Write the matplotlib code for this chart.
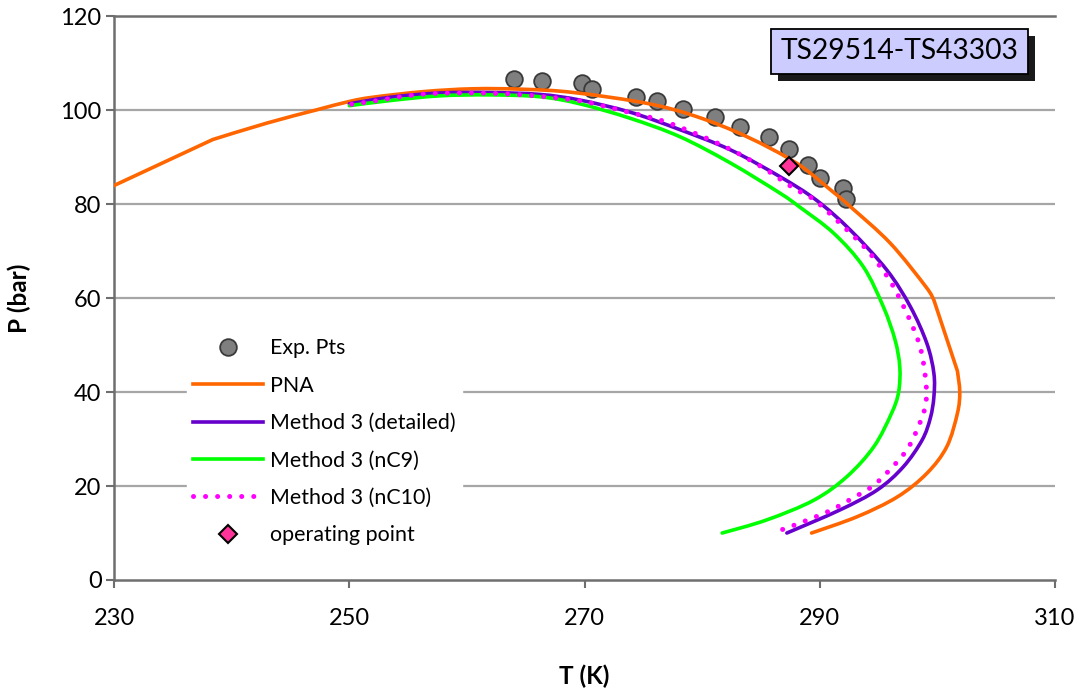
import matplotlib
matplotlib.use("Agg")
import matplotlib.pyplot as plt
import matplotlib.patheffects as pe
from matplotlib.path import Path
from matplotlib.patches import PathPatch
from matplotlib.lines import Line2D

plt.rcParams['font.family'] = ['Lato', 'DejaVu Sans']

# Experimental dew/bubble points
exp_T = [264.0, 266.4, 269.8, 270.6, 274.4, 276.2, 278.4, 281.1, 283.2,
         285.7, 287.4, 289.0, 290.0, 292.0, 292.2]
exp_P = [106.7, 106.2, 105.9, 104.6, 102.9, 102.0, 100.3, 98.6, 96.5,
         94.4, 91.8, 88.4, 85.5, 83.4, 81.1]

# PNA phase envelope
pna_T = [230.0, 238.4, 243.0, 247.2, 250.0, 252.0, 256.3, 260.5, 264.8,
         269.1, 275.3, 279.5, 283.8, 288.0, 290.9, 292.6, 296.0, 299.0,
         299.7, 301.7, 301.9, 301.7, 300.8, 299.1, 296.6, 293.2, 289.3]
pna_P = [84.0, 93.8, 97.3, 100.1, 101.9, 102.8, 104.0, 104.6, 104.5,
         103.8, 101.5, 98.7, 94.4, 88.8, 83.1, 79.5, 71.7, 62.5,
         59.6, 44.5, 40.0, 35.5, 28.4, 22.7, 17.7, 13.5, 10.0]
# indices where the PNA envelope has sharp corners
pna_corners = [1, 18, 19]

# Method 3, detailed characterisation
det_T = [250.0, 253.5, 257.7, 262.0, 266.2, 269.6, 273.9, 278.1, 282.4,
         286.6, 289.7, 292.6, 295.7, 297.7, 299.1, 299.7, 299.7, 299.4,
         298.7, 297.1, 294.9, 291.7, 287.2]
det_P = [101.4, 102.8, 103.7, 103.8, 103.4, 102.2, 99.6, 95.9, 91.6,
         85.9, 80.9, 74.5, 66.0, 58.2, 50.4, 44.0, 39.0, 34.5,
         29.8, 24.1, 19.2, 14.9, 10.0]

# Method 3, lumped into nC9
nc9_T = [250.0, 253.5, 257.7, 262.0, 266.2, 269.6, 273.9, 278.1, 282.4,
         286.6, 288.3, 291.2, 293.7, 295.4, 296.4, 296.8, 296.7, 296.1,
         294.6, 292.3, 289.5, 285.5, 281.7]
nc9_P = [101.0, 102.1, 103.1, 103.3, 102.9, 101.4, 98.3, 94.4, 88.8,
         82.4, 79.4, 73.8, 66.7, 58.2, 51.1, 45.4, 40.0, 35.5,
         28.4, 22.0, 17.0, 12.8, 10.0]

# Method 3, lumped into nC10
nc10_T = [250.2, 251.9, 256.0, 260.1, 264.2, 268.5, 270.5, 273.6, 276.6,
          279.5, 282.4, 285.1, 287.8, 289.5, 291.7, 294.0, 295.9, 297.3,
          298.5, 299.0, 299.0, 298.3, 297.4, 296.0, 294.5, 292.7, 290.9,
          289.0, 287.1, 286.1]
nc10_P = [101.3, 101.9, 103.4, 103.7, 103.4, 102.4, 101.6, 99.7, 97.8,
          95.0, 91.7, 87.9, 83.4, 81.0, 76.0, 70.3, 64.0, 57.3,
          49.9, 42.6, 37.3, 32.2, 27.7, 23.6, 20.0, 17.3, 14.8,
          12.8, 11.0, 10.1]

op_T = [287.4]
op_P = [88.1]

x_ticks = [230, 250, 270, 290, 310]
y_ticks = [0, 20, 40, 60, 80, 100, 120]


def smooth_path(xs, ys, corners=()):
    """Smoothed polyline (Catmull-Rom rendered as cubic Bezier segments).
    Segments touching a corner index are drawn straight."""
    pts = list(zip(xs, ys))
    n = len(pts)
    verts = [pts[0]]
    codes = [Path.MOVETO]
    for i in range(n - 1):
        p1, p2 = pts[i], pts[i + 1]
        p0 = pts[i - 1] if i > 0 and i not in corners else p1
        p3 = pts[i + 2] if i + 2 < n and (i + 1) not in corners else p2
        c1 = (p1[0] + (p2[0] - p0[0]) / 6.0, p1[1] + (p2[1] - p0[1]) / 6.0)
        c2 = (p2[0] - (p3[0] - p1[0]) / 6.0, p2[1] - (p3[1] - p1[1]) / 6.0)
        verts += [c1, c2, p2]
        codes += [Path.CURVE4] * 3
    return Path(verts, codes)


fig = plt.figure(figsize=(10.78, 6.95), dpi=100)
ax = fig.add_axes([0.1058, 0.1655, 0.8729, 0.8108])

ax.set_xlim(230, 310)
ax.set_ylim(0, 120)
ax.set_xticks(x_ticks)
ax.set_yticks(y_ticks)

for y in y_ticks[1:-1]:
    ax.axhline(y, color='#a6a6a6', lw=1.6, zorder=0)
ax.axhline(120, color='#6e6e6e', lw=1.8, zorder=0, clip_on=False)

for s in ['top', 'right']:
    ax.spines[s].set_visible(False)
for s in ['left', 'bottom']:
    ax.spines[s].set_color('#6e6e6e')
    ax.spines[s].set_linewidth(1.8)
ax.tick_params(axis='both', direction='out', length=6, width=1.5,
               color='#6e6e6e', labelsize=17)
ax.tick_params(axis='x', pad=14)
ax.tick_params(axis='y', pad=3)

lw = 2.6
styles = {
    'PNA': dict(color='#ff6600', lw=lw),
    'Method 3 (detailed)': dict(color='#6600cc', lw=lw),
    'Method 3 (nC9)': dict(color='#00ff00', lw=lw),
    'Method 3 (nC10)': dict(color='#ff00ff', lw=3.6, ls=(0, (0.01, 2.4))),
}

ax.plot(exp_T, exp_P, 'o', ms=12, mfc='#7f7f7f', mec='#3a3a3a', mew=1.3,
        zorder=3)

curves = [
    ('PNA', pna_T, pna_P, pna_corners),
    ('Method 3 (detailed)', det_T, det_P, ()),
    ('Method 3 (nC9)', nc9_T, nc9_P, ()),
    ('Method 3 (nC10)', nc10_T, nc10_P, ()),
]
for name, xs, ys, cn in curves:
    st = styles[name]
    patch = PathPatch(smooth_path(xs, ys, cn), fill=False,
                      edgecolor=st['color'], linewidth=st['lw'],
                      linestyle=st.get('ls', '-'),
                      capstyle='round', joinstyle='round',
                      zorder=5 if name == 'Method 3 (nC10)' else 4)
    ax.add_patch(patch)

ax.plot(op_T, op_P, 'D', ms=9, mfc='#ff3399', mec='black', mew=1.5,
        zorder=6)

handles = [Line2D([], [], ls='none', marker='o', ms=12, mfc='#7f7f7f',
                  mec='#3a3a3a', mew=1.3, label='Exp. Pts')]
for name in ['PNA', 'Method 3 (detailed)', 'Method 3 (nC9)',
             'Method 3 (nC10)']:
    st = styles[name]
    handles.append(Line2D([], [], color=st['color'], lw=st['lw'],
                          ls=st.get('ls', '-'), dash_capstyle='round',
                          label=name))
handles.append(Line2D([], [], ls='none', marker='D', ms=9, mfc='#ff3399',
                      mec='black', mew=1.5, label='operating point'))

ax.set_xlabel('T (K)', fontsize=17.5, fontweight='bold', labelpad=26)
ax.set_ylabel('P (bar)', fontsize=17.5, fontweight='bold', labelpad=21)

leg = ax.legend(handles=handles, loc='upper left',
                bbox_to_anchor=(0.066, 0.459),
                fontsize=15.4, frameon=True, facecolor='white',
                edgecolor='white', framealpha=1, fancybox=False,
                handlelength=3.27, handletextpad=0.33, labelspacing=0.81,
                borderpad=0.3)
leg.set_zorder(7)

ax.text(0.835, 0.938, 'TS29514-TS43303', transform=ax.transAxes,
        fontsize=20.3, ha='center', va='center', zorder=8,
        bbox=dict(boxstyle='square,pad=0.34', facecolor='#ccccff',
                  edgecolor='black', linewidth=1.3,
                  path_effects=[pe.SimplePatchShadow(offset=(5, -5),
                                                     shadow_rgbFace='black',
                                                     alpha=0.9),
                                pe.Normal()]))

fig.savefig('out.png', dpi=100)
